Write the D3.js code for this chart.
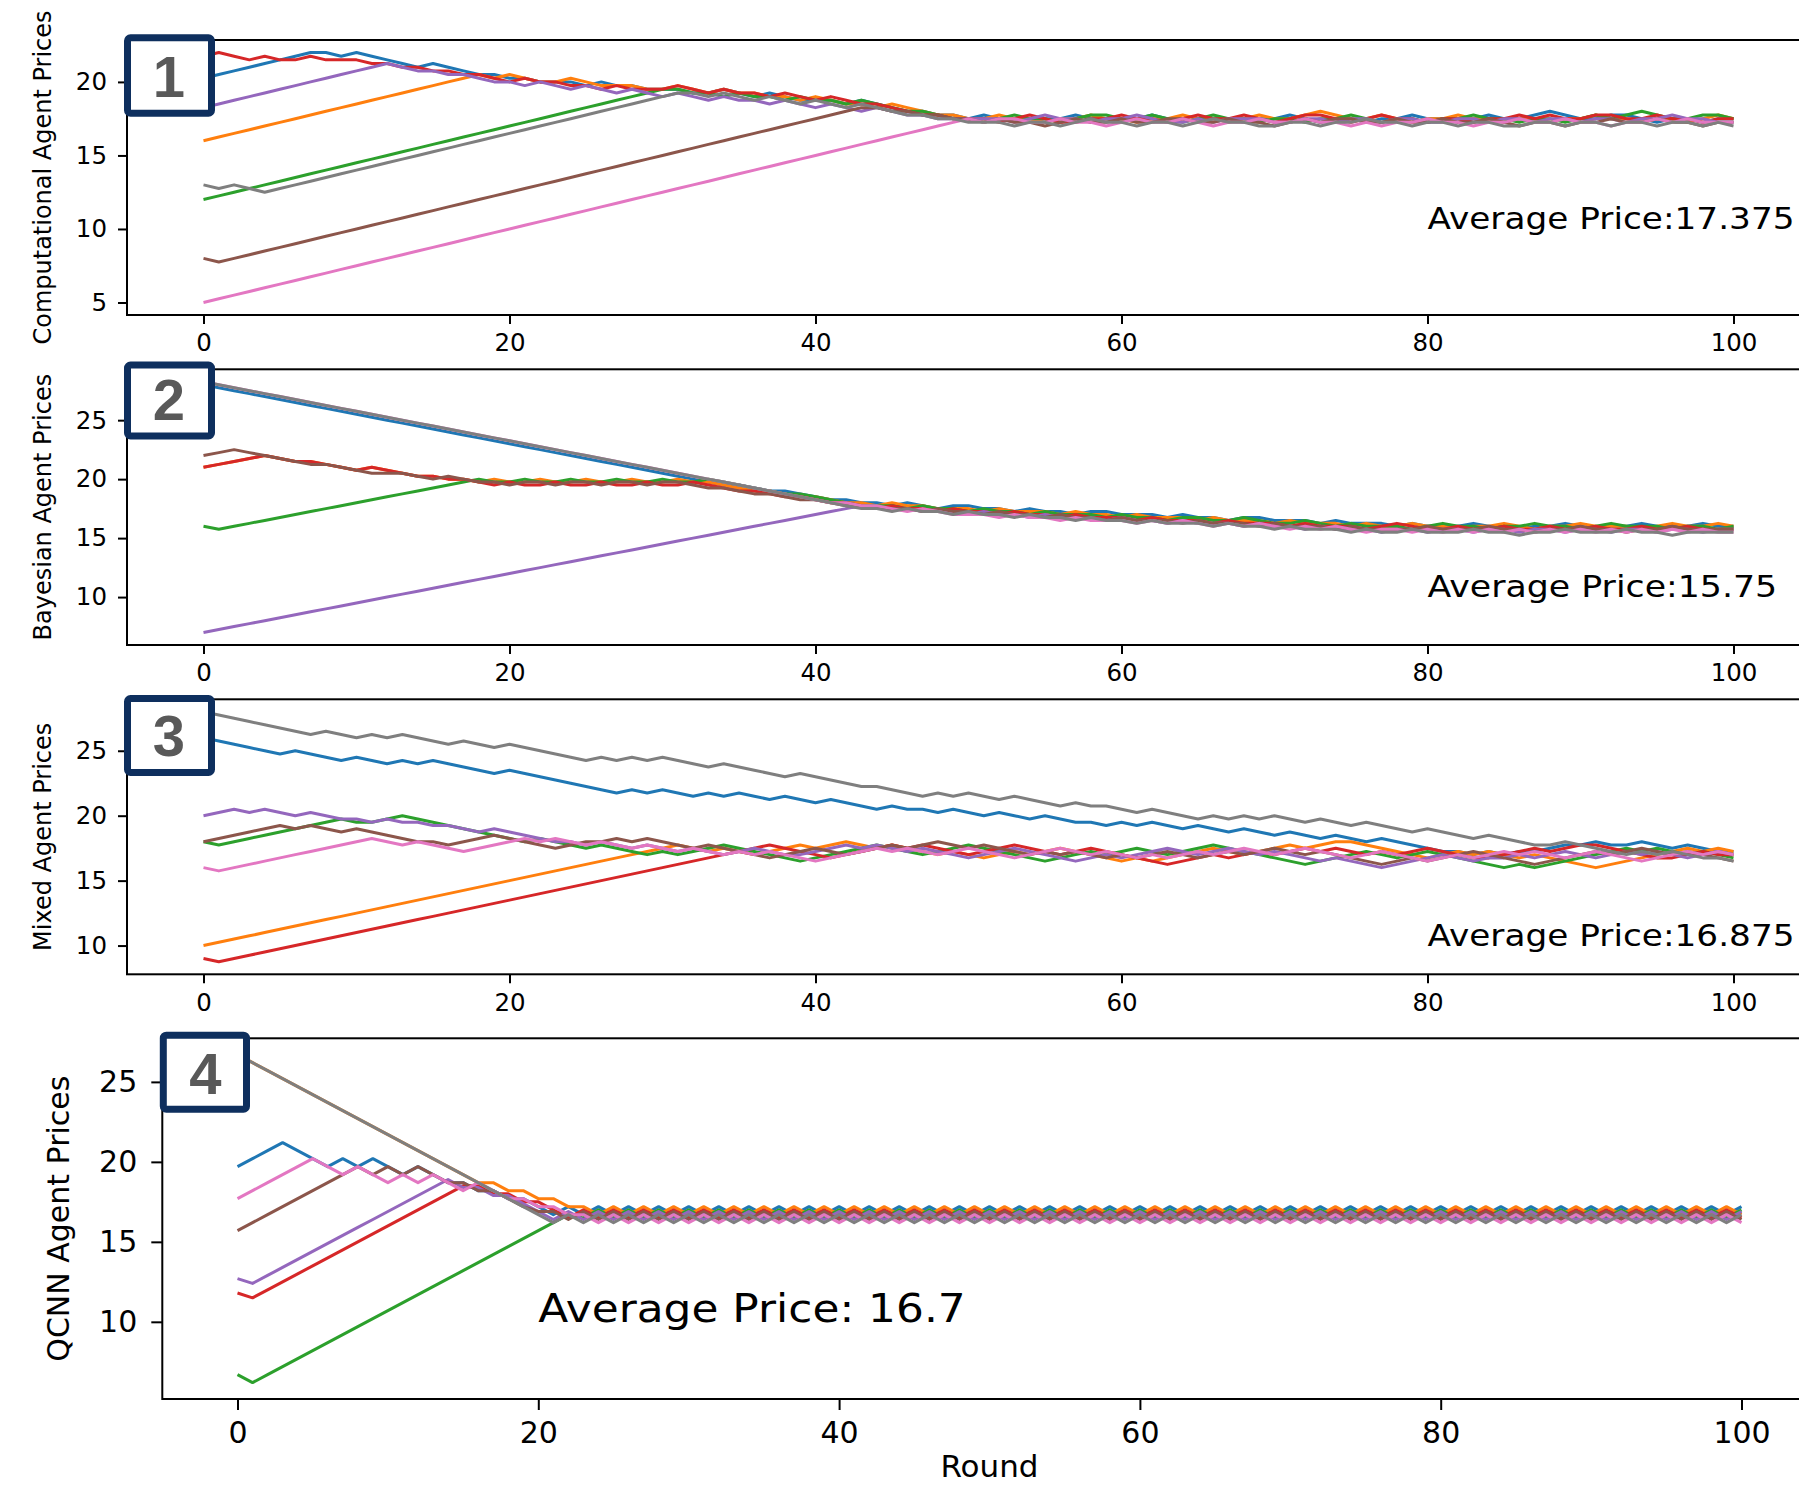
<!DOCTYPE html>
<html>
<head>
<meta charset="utf-8">
<script src="https://cdn.jsdelivr.net/npm/d3@7"></script>
<style>
  html, body { margin: 0; padding: 0; background: #fff; }
  svg { display: block; }
</style>
</head>
<body>
<svg width="1799" height="1485"></svg>
<script>
// x: round index 0..100 (array position), y: agent price
var xTicks = [0, 20, 40, 60, 80, 100];
var compTicks = [5, 10, 15, 20];
var bayesTicks = [10, 15, 20, 25];
var mixedTicks = [10, 15, 20, 25];
var qcnnTicks = [10, 15, 20, 25];
var panelTags = ["1", "2", "3", "4"];

// ---- Computational agents ----
var compBlue = [
20.25, 20.5, 20.75, 21, 21.25, 21.5, 21.75, 22, 22, 21.75,
22, 21.75, 21.5, 21.25, 21, 21.25, 21, 20.75, 20.5, 20.5,
20.25, 20.25, 20, 20, 20, 19.75, 20, 19.75, 19.75, 19.5,
19.5, 19.5, 19.25, 19.25, 19.5, 19.25, 19, 19.25, 19, 18.75,
18.75, 18.75, 18.5, 18.75, 18.5, 18.25, 18, 18, 17.75, 17.75,
17.5, 17.75, 17.5, 17.5, 17.25, 17.5, 17.5, 17.75, 17.5, 17.5,
17.25, 17.5, 17.75, 17.5, 17.5, 17.25, 17.5, 17.5, 17.25, 17.5,
17.5, 17.75, 17.5, 17.25, 17.5, 17.5, 17.25, 17.5, 17.5, 17.75,
17.5, 17.5, 17.25, 17.5, 17.75, 17.5, 17.5, 17.75, 18, 17.75,
17.5, 17.5, 17.75, 17.75, 17.5, 17.25, 17.5, 17.5, 17.25, 17.5,
17.5];
var compOrange = [
16, 16.25, 16.5, 16.75, 17, 17.25, 17.5, 17.75, 18, 18.25,
18.5, 18.75, 19, 19.25, 19.5, 19.75, 20, 20.25, 20.5, 20.25,
20.5, 20.25, 20, 20, 20.25, 20, 19.75, 19.75, 19.75, 19.5,
19.5, 19.75, 19.5, 19.25, 19.5, 19.25, 19.25, 19, 19, 18.75,
19, 18.75, 18.5, 18.5, 18.25, 18.5, 18.25, 18, 17.75, 17.75,
17.5, 17.5, 17.75, 17.5, 17.5, 17.25, 17.5, 17.5, 17.75, 17.5,
17.5, 17.25, 17.5, 17.5, 17.75, 17.5, 17.5, 17.25, 17.5, 17.75,
17.5, 17.5, 17.75, 18, 17.75, 17.5, 17.5, 17.75, 17.5, 17.25,
17.5, 17.5, 17.75, 17.5, 17.5, 17.25, 17.5, 17.5, 17.25, 17.5,
17.5, 17.75, 17.5, 17.5, 17.25, 17.5, 17.5, 17.25, 17.5, 17.75,
17.5];
var compGreen = [
12, 12.25, 12.5, 12.75, 13, 13.25, 13.5, 13.75, 14, 14.25,
14.5, 14.75, 15, 15.25, 15.5, 15.75, 16, 16.25, 16.5, 16.75,
17, 17.25, 17.5, 17.75, 18, 18.25, 18.5, 18.75, 19, 19.25,
19.5, 19.5, 19.25, 19.25, 19, 19.25, 19, 19, 18.75, 19,
18.75, 18.75, 18.5, 18.75, 18.5, 18.25, 18, 18, 17.75, 17.5,
17.5, 17.25, 17.5, 17.75, 17.5, 17.5, 17.25, 17.5, 17.75, 17.75,
17.5, 17.5, 17.75, 17.5, 17.25, 17.5, 17.75, 17.5, 17.5, 17.25,
17.5, 17.5, 17.25, 17.5, 17.5, 17.75, 17.5, 17.25, 17.5, 17.5,
17.25, 17.5, 17.5, 17.75, 17.5, 17.5, 17.25, 17.5, 17.5, 17.25,
17.5, 17.75, 17.5, 17.75, 18, 17.75, 17.5, 17.5, 17.75, 17.75,
17.5];
var compRed = [
21.75, 22, 21.75, 21.5, 21.75, 21.5, 21.5, 21.75, 21.5, 21.5,
21.5, 21.25, 21.25, 21, 21, 20.75, 20.75, 20.5, 20.5, 20.25,
20, 20.25, 20, 20, 19.75, 19.75, 19.5, 19.75, 19.5, 19.5,
19.5, 19.75, 19.5, 19.25, 19.5, 19.25, 19.25, 19, 19.25, 19,
18.75, 19, 18.75, 18.5, 18.5, 18.25, 18, 17.75, 17.75, 17.5,
17.5, 17.5, 17.25, 17.5, 17.75, 17.5, 17.25, 17.25, 17.5, 17.5,
17.75, 17.5, 17.5, 17.25, 17.5, 17.75, 17.5, 17.5, 17.75, 17.5,
17.25, 17.5, 17.75, 17.75, 17.5, 17.25, 17.5, 17.75, 17.5, 17.5,
17.25, 17.5, 17.5, 17.25, 17.5, 17.5, 17.75, 17.5, 17.75, 17.5,
17.5, 17.75, 17.75, 17.5, 17.5, 17.75, 17.5, 17.5, 17.25, 17.5,
17.5];
var compPurple = [
18.25, 18.5, 18.75, 19, 19.25, 19.5, 19.75, 20, 20.25, 20.5,
20.75, 21, 21.25, 21, 20.75, 20.75, 20.5, 20.5, 20.25, 20,
20, 19.75, 20, 19.75, 19.5, 19.75, 19.5, 19.25, 19.5, 19.25,
19, 19.25, 19, 18.75, 19, 18.75, 18.75, 18.5, 18.75, 18.5,
18.25, 18.5, 18.25, 18, 18.25, 18, 17.75, 17.75, 17.5, 17.5,
17.5, 17.5, 17.5, 17.25, 17.5, 17.75, 17.5, 17.5, 17.25, 17.5,
17.5, 17.75, 17.5, 17.25, 17.25, 17.5, 17.25, 17.5, 17.5, 17.5,
17.25, 17.25, 17.5, 17.5, 17.25, 17.5, 17.5, 17.25, 17.5, 17.5,
17.25, 17.25, 17.5, 17.5, 17.25, 17.5, 17.5, 17.25, 17.5, 17.5,
17.25, 17.5, 17.5, 17.25, 17.5, 17.5, 17.75, 17.5, 17.5, 17.25,
17.25];
var compBrown = [
8, 7.75, 8, 8.25, 8.5, 8.75, 9, 9.25, 9.5, 9.75,
10, 10.25, 10.5, 10.75, 11, 11.25, 11.5, 11.75, 12, 12.25,
12.5, 12.75, 13, 13.25, 13.5, 13.75, 14, 14.25, 14.5, 14.75,
15, 15.25, 15.5, 15.75, 16, 16.25, 16.5, 16.75, 17, 17.25,
17.5, 17.75, 18, 18.25, 18.25, 18, 18, 17.75, 17.75, 17.5,
17.5, 17.25, 17.5, 17.25, 17.25, 17, 17.25, 17.5, 17.25, 17.25,
17.5, 17.25, 17.25, 17.5, 17.5, 17.25, 17.25, 17.5, 17.25, 17.25,
17, 17.25, 17.5, 17.25, 17.5, 17.5, 17.25, 17.25, 17.5, 17.25,
17.25, 17.5, 17.25, 17.25, 17.5, 17.25, 17, 17.25, 17.25, 17,
17.25, 17.25, 17.5, 17.25, 17.25, 17.5, 17.25, 17.25, 17, 17.25,
17.25];
var compPink = [
5, 5.25, 5.5, 5.75, 6, 6.25, 6.5, 6.75, 7, 7.25,
7.5, 7.75, 8, 8.25, 8.5, 8.75, 9, 9.25, 9.5, 9.75,
10, 10.25, 10.5, 10.75, 11, 11.25, 11.5, 11.75, 12, 12.25,
12.5, 12.75, 13, 13.25, 13.5, 13.75, 14, 14.25, 14.5, 14.75,
15, 15.25, 15.5, 15.75, 16, 16.25, 16.5, 16.75, 17, 17.25,
17.5, 17.25, 17.5, 17.5, 17.25, 17.25, 17.5, 17.25, 17.25, 17,
17.25, 17.5, 17.25, 17.25, 17.5, 17.25, 17, 17.25, 17.25, 17.5,
17.25, 17.25, 17.5, 17.25, 17.25, 17, 17.25, 17, 17.25, 17.25,
17.5, 17.25, 17.25, 17, 17.25, 17.25, 17.5, 17.25, 17.25, 17.5,
17.25, 17.25, 17, 17.25, 17.25, 17.5, 17.25, 17.5, 17.25, 17.25,
17.25];
var compGray = [
13, 12.75, 13, 12.75, 12.5, 12.75, 13, 13.25, 13.5, 13.75,
14, 14.25, 14.5, 14.75, 15, 15.25, 15.5, 15.75, 16, 16.25,
16.5, 16.75, 17, 17.25, 17.5, 17.75, 18, 18.25, 18.5, 18.75,
19, 19.25, 19.25, 19, 19.25, 19, 18.75, 19, 18.75, 18.5,
18.75, 18.5, 18.25, 18.5, 18.25, 18, 17.75, 17.75, 17.5, 17.5,
17.25, 17.25, 17.25, 17, 17.25, 17.25, 17, 17.25, 17.5, 17.25,
17.25, 17, 17.25, 17.25, 17, 17.25, 17.5, 17.25, 17.25, 17,
17, 17.25, 17.25, 17, 17.25, 17.25, 17.5, 17.25, 17.25, 17,
17.25, 17.25, 17, 17.25, 17.25, 17, 17, 17.25, 17.25, 17,
17.25, 17.25, 17, 17.25, 17.25, 17, 17.25, 17.25, 17, 17.25,
17];

// ---- Bayesian agents ----
var bayesBlue = [
28, 27.75, 27.5, 27.25, 27, 26.75, 26.5, 26.25, 26, 25.75,
25.5, 25.25, 25, 24.75, 24.5, 24.25, 24, 23.75, 23.5, 23.25,
23, 22.75, 22.5, 22.25, 22, 21.75, 21.5, 21.25, 21, 20.75,
20.5, 20.25, 20, 19.75, 19.5, 19.5, 19.25, 19, 19, 18.75,
18.5, 18.25, 18.25, 18, 18, 17.75, 18, 17.75, 17.5, 17.75,
17.75, 17.5, 17.5, 17.25, 17.5, 17.25, 17.25, 17, 17.25, 17.25,
17, 17, 17, 16.75, 17, 16.75, 16.75, 16.5, 16.75, 16.75,
16.5, 16.5, 16.5, 16.25, 16.5, 16.25, 16.25, 16.25, 16, 16.25,
16, 16, 16, 16.25, 16, 16, 15.75, 16, 16, 16.25,
16, 15.75, 16, 16, 16.25, 16, 16, 16, 16.25, 16,
16];
var bayesOrange = [
21, 21.25, 21.5, 21.75, 22, 21.75, 21.5, 21.5, 21.25, 21,
20.75, 21, 20.75, 20.5, 20.25, 20.25, 20, 20, 19.75, 20,
19.75, 19.75, 20, 19.75, 19.75, 20, 19.75, 19.75, 20, 19.75,
19.75, 20, 19.75, 19.75, 19.5, 19.25, 19, 19, 18.75, 18.5,
18.5, 18.25, 18, 18, 17.75, 18, 17.75, 17.75, 17.5, 17.5,
17.5, 17.25, 17.5, 17.25, 17.25, 17.25, 17, 17.25, 17, 17,
16.75, 17, 16.75, 16.75, 16.75, 16.5, 16.75, 16.5, 16.5, 16.5,
16.25, 16.5, 16.25, 16.25, 16.25, 16, 16.25, 16, 16, 16.25,
16, 16, 15.75, 16, 16, 16.25, 16, 15.75, 16, 16,
16.25, 16, 16, 16, 15.75, 16, 16.25, 16, 16, 16.25,
16];
var bayesGreen = [
16, 15.75, 16, 16.25, 16.5, 16.75, 17, 17.25, 17.5, 17.75,
18, 18.25, 18.5, 18.75, 19, 19.25, 19.5, 19.75, 20, 19.75,
19.75, 20, 19.75, 19.75, 20, 19.75, 19.75, 20, 19.75, 19.75,
20, 19.75, 19.75, 20, 19.75, 19.5, 19.25, 19, 18.75, 18.75,
18.5, 18.25, 18, 17.75, 17.75, 17.75, 17.5, 17.75, 17.5, 17.5,
17.25, 17.5, 17.25, 17.25, 17, 17.25, 17, 17, 17, 16.75,
17, 16.75, 16.75, 16.5, 16.75, 16.75, 16.5, 16.5, 16.75, 16.5,
16.25, 16.25, 16.5, 16.25, 16, 16.25, 16, 16, 16, 15.75,
16, 16.25, 16, 16, 15.75, 16, 16, 16.25, 16, 16,
15.75, 16, 16.25, 16, 16, 16, 15.75, 16, 16, 15.75,
16];
var bayesRed = [
21, 21.25, 21.5, 21.75, 22, 21.75, 21.5, 21.5, 21.25, 21,
20.75, 21, 20.75, 20.5, 20.25, 20.25, 20, 20, 19.75, 19.5,
19.75, 19.5, 19.5, 19.75, 19.5, 19.5, 19.75, 19.5, 19.5, 19.75,
19.5, 19.5, 19.75, 19.5, 19.25, 19, 19, 18.75, 18.5, 18.5,
18.25, 18, 18, 17.75, 17.5, 17.75, 17.5, 17.5, 17.25, 17.5,
17.25, 17.25, 17, 17.25, 17, 17, 16.75, 17, 16.75, 16.75,
16.75, 16.5, 16.75, 16.5, 16.5, 16.5, 16.25, 16.5, 16.25, 16.25,
16.25, 16, 16.25, 16, 16, 16, 15.75, 16, 16.25, 16,
15.75, 15.75, 16, 15.75, 15.75, 16, 15.75, 15.75, 16, 15.75,
15.75, 16, 15.75, 15.75, 16, 15.75, 15.75, 16, 15.75, 15.75,
15.75];
var bayesPurple = [
7, 7.25, 7.5, 7.75, 8, 8.25, 8.5, 8.75, 9, 9.25,
9.5, 9.75, 10, 10.25, 10.5, 10.75, 11, 11.25, 11.5, 11.75,
12, 12.25, 12.5, 12.75, 13, 13.25, 13.5, 13.75, 14, 14.25,
14.5, 14.75, 15, 15.25, 15.5, 15.75, 16, 16.25, 16.5, 16.75,
17, 17.25, 17.5, 17.75, 17.5, 17.5, 17.5, 17.25, 17.25, 17.25,
17, 17.25, 17, 17, 16.75, 17, 16.75, 16.75, 16.75, 16.5,
16.75, 16.5, 16.5, 16.25, 16.5, 16.25, 16.25, 16.25, 16, 16.25,
16, 16, 15.75, 16, 15.75, 15.75, 15.75, 15.5, 15.75, 15.75,
15.5, 15.75, 15.75, 15.5, 15.75, 15.75, 15.5, 15.75, 15.75, 15.5,
15.75, 15.75, 15.5, 15.75, 15.75, 15.5, 15.75, 15.75, 15.5, 15.75,
15.75];
var bayesBrown = [
22, 22.25, 22.5, 22.25, 22, 21.75, 21.5, 21.25, 21.25, 21,
20.75, 20.5, 20.5, 20.5, 20.25, 20, 20.25, 20, 19.75, 19.75,
19.5, 19.75, 19.75, 19.5, 19.75, 19.75, 19.5, 19.75, 19.75, 19.5,
19.75, 19.75, 19.5, 19.25, 19.25, 19, 18.75, 18.75, 18.5, 18.25,
18.25, 18, 17.75, 17.75, 17.5, 17.5, 17.5, 17.25, 17.5, 17.25,
17.25, 17, 17.25, 17, 17, 16.75, 17, 16.75, 16.75, 16.5,
16.75, 16.5, 16.5, 16.5, 16.25, 16.5, 16.25, 16.25, 16.25, 16,
16.25, 16, 16, 16, 15.75, 16, 15.75, 15.75, 15.75, 15.75,
16, 15.75, 15.75, 15.75, 16, 15.75, 15.75, 15.5, 15.75, 15.75,
16, 15.75, 15.75, 15.5, 15.75, 15.75, 16, 15.75, 15.75, 15.75,
15.75];
var bayesPink = [
28.25, 28, 27.75, 27.5, 27.25, 27, 26.75, 26.5, 26.25, 26,
25.75, 25.5, 25.25, 25, 24.75, 24.5, 24.25, 24, 23.75, 23.5,
23.25, 23, 22.75, 22.5, 22.25, 22, 21.75, 21.5, 21.25, 21,
20.75, 20.5, 20.25, 20, 19.75, 19.5, 19.25, 19, 18.75, 18.5,
18.25, 18, 18, 17.75, 17.75, 17.5, 17.25, 17.5, 17.25, 17,
17, 17, 16.75, 17, 16.75, 16.75, 16.5, 16.75, 16.5, 16.5,
16.5, 16.25, 16.5, 16.25, 16.5, 16.25, 16, 16.25, 16, 16.25,
16, 15.75, 16, 15.75, 16, 15.75, 15.5, 15.75, 15.75, 15.5,
15.75, 15.5, 15.75, 15.5, 15.75, 15.5, 15.75, 15.5, 15.75, 15.5,
15.75, 15.5, 15.75, 15.5, 15.75, 15.5, 15.75, 15.5, 15.75, 15.5,
15.5];
var bayesGray = [
28.25, 28, 27.75, 27.5, 27.25, 27, 26.75, 26.5, 26.25, 26,
25.75, 25.5, 25.25, 25, 24.75, 24.5, 24.25, 24, 23.75, 23.5,
23.25, 23, 22.75, 22.5, 22.25, 22, 21.75, 21.5, 21.25, 21,
20.75, 20.5, 20.25, 20, 19.75, 19.5, 19.25, 19, 18.75, 18.5,
18.25, 18, 17.75, 17.5, 17.5, 17.25, 17.5, 17.25, 17.25, 17,
17.25, 17, 17, 16.75, 17, 16.75, 16.75, 16.5, 16.75, 16.5,
16.5, 16.25, 16.5, 16.25, 16.25, 16.25, 16, 16.25, 16, 16,
15.75, 16, 15.75, 15.75, 15.75, 15.5, 15.75, 15.5, 15.5, 15.75,
15.5, 15.5, 15.5, 15.75, 15.5, 15.5, 15.25, 15.5, 15.5, 15.75,
15.5, 15.5, 15.5, 15.75, 15.5, 15.5, 15.25, 15.5, 15.5, 15.5,
15.5];

// ---- Mixed agents ----
var mixedBlue = [
26, 25.75, 25.5, 25.25, 25, 24.75, 25, 24.75, 24.5, 24.25,
24.5, 24.25, 24, 24.25, 24, 24.25, 24, 23.75, 23.5, 23.25,
23.5, 23.25, 23, 22.75, 22.5, 22.25, 22, 21.75, 22, 21.75,
22, 21.75, 21.5, 21.75, 21.5, 21.75, 21.5, 21.25, 21.5, 21.25,
21, 21.25, 21, 20.75, 20.5, 20.75, 20.5, 20.5, 20.25, 20.5,
20.25, 20, 20.25, 20, 19.75, 20, 19.75, 19.5, 19.5, 19.25,
19.5, 19.25, 19.5, 19.25, 19, 19.25, 19, 18.75, 19, 18.75,
18.5, 18.75, 18.5, 18.25, 18.5, 18.25, 18, 18.25, 18, 17.75,
17.5, 17.25, 17.25, 17, 17.25, 17, 17.25, 17.25, 17.5, 17.75,
17.75, 18, 17.75, 17.75, 18, 17.75, 17.5, 17.75, 17.5, 17.25,
17.25];
var mixedOrange = [
10, 10.25, 10.5, 10.75, 11, 11.25, 11.5, 11.75, 12, 12.25,
12.5, 12.75, 13, 13.25, 13.5, 13.75, 14, 14.25, 14.5, 14.75,
15, 15.25, 15.5, 15.75, 16, 16.25, 16.5, 16.75, 17, 17.25,
17.5, 17.75, 17.5, 17.25, 17.5, 17.25, 17, 17.25, 17.5, 17.75,
17.5, 17.75, 18, 17.75, 17.5, 17.75, 17.5, 17.25, 17, 17.25,
17, 16.75, 17, 17.25, 17, 17.25, 17.5, 17.25, 17, 16.75,
16.5, 16.75, 16.5, 16.75, 17, 17.25, 17.5, 17.25, 17, 17.25,
17.5, 17.75, 17.5, 17.75, 18, 18, 17.75, 17.5, 17.25, 17,
16.75, 17, 17.25, 17, 17.25, 17, 16.75, 17, 16.75, 16.5,
16.25, 16, 16.25, 16.5, 16.75, 17, 17.25, 17.5, 17.25, 17.5,
17.25];
var mixedGreen = [
18, 17.75, 18, 18.25, 18.5, 18.75, 19, 19.25, 19.5, 19.75,
19.5, 19.5, 19.75, 20, 19.75, 19.5, 19.25, 19, 18.75, 18.5,
18.25, 18, 18.25, 18, 17.75, 17.5, 17.75, 17.5, 17.25, 17,
17.25, 17, 17.25, 17.5, 17.75, 17.5, 17.25, 17, 16.75, 16.5,
16.75, 17, 17.25, 17.5, 17.75, 17.5, 17.25, 17, 17.25, 17.5,
17.75, 17.5, 17.25, 17, 16.75, 16.5, 16.75, 17, 17.25, 17,
17.25, 17.5, 17.25, 17, 17.25, 17.5, 17.75, 17.5, 17.25, 17,
16.75, 16.5, 16.25, 16.5, 16.75, 17, 17.25, 17, 16.75, 17,
17.25, 17, 16.75, 16.5, 16.25, 16, 16.25, 16, 16.25, 16.5,
16.75, 17, 17.25, 17.5, 17.25, 17.5, 17.25, 17, 17.25, 17,
16.75];
var mixedRed = [
9, 8.75, 9, 9.25, 9.5, 9.75, 10, 10.25, 10.5, 10.75,
11, 11.25, 11.5, 11.75, 12, 12.25, 12.5, 12.75, 13, 13.25,
13.5, 13.75, 14, 14.25, 14.5, 14.75, 15, 15.25, 15.5, 15.75,
16, 16.25, 16.5, 16.75, 17, 17.25, 17.5, 17.75, 17.5, 17.25,
17, 16.75, 17, 17.25, 17.5, 17.75, 17.5, 17.75, 17.5, 17.25,
17, 17.25, 17.5, 17.75, 17.5, 17.25, 17, 17.25, 17.5, 17.25,
17, 16.75, 16.5, 16.25, 16.5, 16.75, 17, 16.75, 17, 17.25,
17, 17.25, 17.5, 17.25, 17.5, 17.25, 17, 17.25, 17, 17.25,
17.5, 17.25, 17, 16.75, 16.75, 17, 17.25, 17.5, 17.25, 17.5,
17.75, 17.75, 17.5, 17.25, 17, 16.75, 16.75, 17, 17.25, 17,
17];
var mixedPurple = [
20, 20.25, 20.5, 20.25, 20.5, 20.25, 20, 20.25, 20, 19.75,
19.75, 19.5, 19.75, 19.5, 19.5, 19.25, 19.25, 19, 18.75, 19,
18.75, 18.5, 18.25, 18, 18, 17.75, 18, 17.75, 17.5, 17.75,
17.5, 17.25, 17.5, 17.25, 17, 17.25, 17.5, 17.25, 17, 17,
17.25, 17.5, 17.75, 17.5, 17.75, 17.5, 17.25, 17.5, 17.25, 17,
16.75, 17, 17.25, 17.5, 17.25, 17, 16.75, 16.5, 16.75, 17,
16.75, 17, 17.25, 17.5, 17.25, 17, 17.25, 17.5, 17.25, 17,
17.25, 17, 16.75, 16.5, 16.75, 16.5, 16.25, 16, 16.25, 16.5,
16.75, 17, 16.75, 16.5, 16.75, 16.75, 17, 16.75, 17, 17.25,
17, 16.75, 17, 17.25, 17, 17.25, 17, 16.75, 17, 17.25,
17];
var mixedBrown = [
18, 18.25, 18.5, 18.75, 19, 19.25, 19, 19.25, 19, 18.75,
19, 18.75, 18.5, 18.25, 18, 18, 17.75, 18, 18.25, 18.5,
18.25, 18, 17.75, 17.5, 17.75, 18, 18, 18.25, 18, 18.25,
18, 17.75, 17.5, 17.75, 17.5, 17.25, 17, 16.75, 17, 17.25,
17.5, 17.25, 17, 17.25, 17.5, 17.75, 17.5, 17.75, 18, 17.75,
17.5, 17.75, 17.5, 17.25, 17, 17.25, 17, 17.25, 17, 16.75,
17, 16.75, 17, 17.25, 17, 16.75, 17, 17.25, 17, 17.25,
17.5, 17.25, 17, 17.25, 17, 16.75, 16.5, 16.25, 16.5, 16.75,
16.5, 16.75, 17, 17.25, 17, 16.75, 16.5, 16.25, 16.5, 16.75,
17, 17.25, 17, 17.25, 17.5, 17.25, 17, 17.25, 17, 16.75,
16.5];
var mixedPink = [
16, 15.75, 16, 16.25, 16.5, 16.75, 17, 17.25, 17.5, 17.75,
18, 18.25, 18, 17.75, 18, 17.75, 17.5, 17.25, 17.5, 17.75,
18, 18.25, 18, 18.25, 18, 17.75, 18, 17.75, 17.5, 17.75,
17.5, 17.25, 17.5, 17.25, 17, 17.25, 17, 17.25, 17, 16.75,
16.5, 16.75, 17, 17.25, 17.5, 17.25, 17.5, 17.25, 17, 17.25,
17.5, 17.25, 17, 16.75, 17, 17.25, 17.5, 17.25, 17, 17.25,
17, 16.75, 17, 16.75, 17, 17.25, 17, 17.25, 17.5, 17.25,
17, 17.25, 17.5, 17.25, 17, 16.75, 17, 17.25, 17, 16.75,
16.5, 16.75, 17, 16.75, 17, 17.25, 17, 17.25, 17, 16.75,
17, 17.25, 17, 16.75, 16.5, 16.75, 17, 17.25, 17, 17.25,
17];
var mixedGray = [
28, 27.75, 27.5, 27.25, 27, 26.75, 26.5, 26.25, 26.5, 26.25,
26, 26.25, 26, 26.25, 26, 25.75, 25.5, 25.75, 25.5, 25.25,
25.5, 25.25, 25, 24.75, 24.5, 24.25, 24.5, 24.25, 24.5, 24.25,
24.5, 24.25, 24, 23.75, 24, 23.75, 23.5, 23.25, 23, 23.25,
23, 22.75, 22.5, 22.25, 22.25, 22, 21.75, 21.5, 21.75, 21.5,
21.75, 21.5, 21.25, 21.5, 21.25, 21, 20.75, 21, 20.75, 20.75,
20.5, 20.25, 20.5, 20.25, 20, 19.75, 20, 19.75, 20, 19.75,
20, 19.75, 19.5, 19.75, 19.5, 19.25, 19.5, 19.25, 19, 18.75,
19, 18.75, 18.5, 18.25, 18.5, 18.25, 18, 17.75, 17.75, 18,
17.75, 17.5, 17.25, 17, 17.25, 17, 17.25, 17, 16.75, 16.75,
16.5];

// ---- QCNN agents ----
var qcnnBlue = [
19.7, 20.2, 20.7, 21.2, 20.7, 20.2, 19.7, 20.2, 19.7, 20.2,
19.7, 19.2, 19.7, 19.2, 18.7, 18.7, 18.2, 18.2, 17.7, 17.7,
17.2, 16.7, 17.2, 16.7, 17.2, 16.7, 17.2, 16.7, 17.2, 16.7,
17.2, 16.7, 17.2, 16.7, 17.2, 16.7, 17.2, 16.7, 17.2, 16.7,
17.2, 16.7, 17.2, 16.7, 17.2, 16.7, 17.2, 16.7, 17.2, 16.7,
17.2, 16.7, 17.2, 16.7, 17.2, 16.7, 17.2, 16.7, 17.2, 16.7,
17.2, 16.7, 17.2, 16.7, 17.2, 16.7, 17.2, 16.7, 17.2, 16.7,
17.2, 16.7, 17.2, 16.7, 17.2, 16.7, 17.2, 16.7, 17.2, 16.7,
17.2, 16.7, 17.2, 16.7, 17.2, 16.7, 17.2, 16.7, 17.2, 16.7,
17.2, 16.7, 17.2, 16.7, 17.2, 16.7, 17.2, 16.7, 17.2, 16.7,
17.2];
var qcnnOrange = [
26.7, 26.2, 25.7, 25.2, 24.7, 24.2, 23.7, 23.2, 22.7, 22.2,
21.7, 21.2, 20.7, 20.2, 19.7, 19.2, 18.7, 18.7, 18.2, 18.2,
17.7, 17.7, 17.2, 17.2, 16.7, 17.2, 16.7, 17.2, 16.7, 17.2,
16.7, 17.2, 16.7, 17.2, 16.7, 17.2, 16.7, 17.2, 16.7, 17.2,
16.7, 17.2, 16.7, 17.2, 16.7, 17.2, 16.7, 17.2, 16.7, 17.2,
16.7, 17.2, 16.7, 17.2, 16.7, 17.2, 16.7, 17.2, 16.7, 17.2,
16.7, 17.2, 16.7, 17.2, 16.7, 17.2, 16.7, 17.2, 16.7, 17.2,
16.7, 17.2, 16.7, 17.2, 16.7, 17.2, 16.7, 17.2, 16.7, 17.2,
16.7, 17.2, 16.7, 17.2, 16.7, 17.2, 16.7, 17.2, 16.7, 17.2,
16.7, 17.2, 16.7, 17.2, 16.7, 17.2, 16.7, 17.2, 16.7, 17.2,
16.7];
var qcnnGreen = [
6.7, 6.2, 6.7, 7.2, 7.7, 8.2, 8.7, 9.2, 9.7, 10.2,
10.7, 11.2, 11.7, 12.2, 12.7, 13.2, 13.7, 14.2, 14.7, 15.2,
15.7, 16.2, 16.7, 16.5, 17, 16.5, 17, 16.5, 17, 16.5,
17, 16.5, 17, 16.5, 17, 16.5, 17, 16.5, 17, 16.5,
17, 16.5, 17, 16.5, 17, 16.5, 17, 16.5, 17, 16.5,
17, 16.5, 17, 16.5, 17, 16.5, 17, 16.5, 17, 16.5,
17, 16.5, 17, 16.5, 17, 16.5, 17, 16.5, 17, 16.5,
17, 16.5, 17, 16.5, 17, 16.5, 17, 16.5, 17, 16.5,
17, 16.5, 17, 16.5, 17, 16.5, 17, 16.5, 17, 16.5,
17, 16.5, 17, 16.5, 17, 16.5, 17, 16.5, 17, 16.5,
17];
var qcnnRed = [
11.8, 11.5, 12, 12.5, 13, 13.5, 14, 14.5, 15, 15.5,
16, 16.5, 17, 17.5, 18, 18.5, 18.5, 18, 18, 17.5,
17.5, 17, 16.5, 17, 16.5, 17, 16.5, 17, 16.5, 17,
16.5, 17, 16.5, 17, 16.5, 17, 16.5, 17, 16.5, 17,
16.5, 17, 16.5, 17, 16.5, 17, 16.5, 17, 16.5, 17,
16.5, 17, 16.5, 17, 16.5, 17, 16.5, 17, 16.5, 17,
16.5, 17, 16.5, 17, 16.5, 17, 16.5, 17, 16.5, 17,
16.5, 17, 16.5, 17, 16.5, 17, 16.5, 17, 16.5, 17,
16.5, 17, 16.5, 17, 16.5, 17, 16.5, 17, 16.5, 17,
16.5, 17, 16.5, 17, 16.5, 17, 16.5, 17, 16.5, 17,
16.5];
var qcnnPurple = [
12.7, 12.4, 12.9, 13.4, 13.9, 14.4, 14.9, 15.4, 15.9, 16.4,
16.9, 17.4, 17.9, 18.4, 18.9, 18.4, 18.4, 17.9, 17.9, 17.4,
16.9, 16.4, 16.9, 16.4, 16.9, 16.4, 16.9, 16.4, 16.9, 16.4,
16.9, 16.4, 16.9, 16.4, 16.9, 16.4, 16.9, 16.4, 16.9, 16.4,
16.9, 16.4, 16.9, 16.4, 16.9, 16.4, 16.9, 16.4, 16.9, 16.4,
16.9, 16.4, 16.9, 16.4, 16.9, 16.4, 16.9, 16.4, 16.9, 16.4,
16.9, 16.4, 16.9, 16.4, 16.9, 16.4, 16.9, 16.4, 16.9, 16.4,
16.9, 16.4, 16.9, 16.4, 16.9, 16.4, 16.9, 16.4, 16.9, 16.4,
16.9, 16.4, 16.9, 16.4, 16.9, 16.4, 16.9, 16.4, 16.9, 16.4,
16.9, 16.4, 16.9, 16.4, 16.9, 16.4, 16.9, 16.4, 16.9, 16.4,
16.9];
var qcnnBrown = [
15.7, 16.2, 16.7, 17.2, 17.7, 18.2, 18.7, 19.2, 19.7, 19.2,
19.7, 19.2, 19.7, 19.2, 18.7, 18.7, 18.2, 18.2, 17.7, 17.2,
16.9, 16.9, 16.4, 16.9, 16.4, 16.9, 16.4, 16.9, 16.4, 16.9,
16.4, 16.9, 16.4, 16.9, 16.4, 16.9, 16.4, 16.9, 16.4, 16.9,
16.4, 16.9, 16.4, 16.9, 16.4, 16.9, 16.4, 16.9, 16.4, 16.9,
16.4, 16.9, 16.4, 16.9, 16.4, 16.9, 16.4, 16.9, 16.4, 16.9,
16.4, 16.9, 16.4, 16.9, 16.4, 16.9, 16.4, 16.9, 16.4, 16.9,
16.4, 16.9, 16.4, 16.9, 16.4, 16.9, 16.4, 16.9, 16.4, 16.9,
16.4, 16.9, 16.4, 16.9, 16.4, 16.9, 16.4, 16.9, 16.4, 16.9,
16.4, 16.9, 16.4, 16.9, 16.4, 16.9, 16.4, 16.9, 16.4, 16.9,
16.4];
var qcnnPink = [
17.7, 18.2, 18.7, 19.2, 19.7, 20.2, 19.7, 19.2, 19.7, 19.2,
18.7, 19.2, 18.7, 19.2, 18.7, 18.2, 18.7, 18.2, 17.7, 17.7,
17.2, 17.2, 16.7, 16.7, 16.2, 16.7, 16.2, 16.7, 16.2, 16.7,
16.2, 16.7, 16.2, 16.7, 16.2, 16.7, 16.2, 16.7, 16.2, 16.7,
16.2, 16.7, 16.2, 16.7, 16.2, 16.7, 16.2, 16.7, 16.2, 16.7,
16.2, 16.7, 16.2, 16.7, 16.2, 16.7, 16.2, 16.7, 16.2, 16.7,
16.2, 16.7, 16.2, 16.7, 16.2, 16.7, 16.2, 16.7, 16.2, 16.7,
16.2, 16.7, 16.2, 16.7, 16.2, 16.7, 16.2, 16.7, 16.2, 16.7,
16.2, 16.7, 16.2, 16.7, 16.2, 16.7, 16.2, 16.7, 16.2, 16.7,
16.2, 16.7, 16.2, 16.7, 16.2, 16.7, 16.2, 16.7, 16.2, 16.7,
16.2];
var qcnnGray = [
26.7, 26.2, 25.7, 25.2, 24.7, 24.2, 23.7, 23.2, 22.7, 22.2,
21.7, 21.2, 20.7, 20.2, 19.7, 19.2, 18.7, 18.2, 17.7, 17.2,
16.7, 16.2, 16.7, 16.2, 16.7, 16.2, 16.7, 16.2, 16.7, 16.2,
16.7, 16.2, 16.7, 16.2, 16.7, 16.2, 16.7, 16.2, 16.7, 16.2,
16.7, 16.2, 16.7, 16.2, 16.7, 16.2, 16.7, 16.2, 16.7, 16.2,
16.7, 16.2, 16.7, 16.2, 16.7, 16.2, 16.7, 16.2, 16.7, 16.2,
16.7, 16.2, 16.7, 16.2, 16.7, 16.2, 16.7, 16.2, 16.7, 16.2,
16.7, 16.2, 16.7, 16.2, 16.7, 16.2, 16.7, 16.2, 16.7, 16.2,
16.7, 16.2, 16.7, 16.2, 16.7, 16.2, 16.7, 16.2, 16.7, 16.2,
16.7, 16.2, 16.7, 16.2, 16.7, 16.2, 16.7, 16.2, 16.7, 16.2,
16.7];

var svg = d3.select("svg");
var agentColor = d3.scaleOrdinal(d3.schemeCategory10);

// panel layout (px) and text styling
var panels = [
  { series: [compBlue, compOrange, compGreen, compRed, compPurple, compBrown, compPink, compGray],
    ylabel: "Computational Agent Prices", yTicks: compTicks, note: "Average Price:17.375", noteAt: [80, 10],
    left: 127, right: 1810, top: 40, bottom: 315,
    tickFont: 24.5, labelFont: 24, labelX: 50.5, noteFont: 30.5, noteStretch: 1.125,
    tick: 9, padX: 10, padY: 11,
    box: [127.5, 37.8, 84, 75.4], tagX: 169, tagY: 96.6 },
  { series: [bayesBlue, bayesOrange, bayesGreen, bayesRed, bayesPurple, bayesBrown, bayesPink, bayesGray],
    ylabel: "Bayesian Agent Prices", yTicks: bayesTicks, note: "Average Price:15.75", noteAt: [80, 10],
    left: 127, right: 1810, top: 369.3, bottom: 645,
    tickFont: 24.5, labelFont: 24, labelX: 50.5, noteFont: 30.5, noteStretch: 1.14,
    tick: 9, padX: 10, padY: 11,
    box: [127.5, 365, 84, 71], tagX: 169, tagY: 419.8 },
  { series: [mixedBlue, mixedOrange, mixedGreen, mixedRed, mixedPurple, mixedBrown, mixedPink, mixedGray],
    ylabel: "Mixed Agent Prices", yTicks: mixedTicks, note: "Average Price:16.875", noteAt: [80, 10],
    left: 127, right: 1810, top: 699.3, bottom: 974.3,
    tickFont: 24.5, labelFont: 24, labelX: 50.5, noteFont: 30.5, noteStretch: 1.125,
    tick: 9, padX: 10, padY: 11,
    box: [127.5, 698.5, 84, 74], tagX: 169, tagY: 756.3 },
  { series: [qcnnBlue, qcnnOrange, qcnnGreen, qcnnRed, qcnnPurple, qcnnBrown, qcnnPink, qcnnGray],
    ylabel: "QCNN Agent Prices", yTicks: qcnnTicks, note: "Average Price: 16.7", noteAt: [20, 10],
    left: 162.3, right: 1816.7, top: 1038.3, bottom: 1399,
    tickFont: 30, labelFont: 30, labelX: 69, noteFont: 39, noteStretch: 1.125,
    tick: 11, padX: 12, padY: 14,
    box: [163.3, 1035.2, 83.2, 74], tagX: 205.4, tagY: 1093.6,
    xlabel: "Round", xlabelFont: 31, xlabelY: 1477 }
];

panels.forEach(function(p, k) {
  var x = d3.scaleLinear().domain([-5, 105]).range([p.left, p.right]);
  var ext = d3.extent(d3.merge(p.series));
  var pad = (ext[1] - ext[0]) * 0.05;
  var y = d3.scaleLinear().domain([ext[0] - pad, ext[1] + pad]).range([p.bottom, p.top]);

  var g = svg.append("g").attr("class", "panel");

  var line = d3.line()
      .x(function(d, i) { return x(i); })
      .y(function(d) { return y(d); });

  g.selectAll(".agent")
      .data(p.series)
      .enter().append("path")
      .attr("class", "agent")
      .attr("d", line)
      .attr("fill", "none")
      .attr("stroke", function(d, i) { return agentColor(i); })
      .attr("stroke-width", 3)
      .attr("stroke-linejoin", "round");

  g.append("rect")
      .attr("x", p.left).attr("y", p.top)
      .attr("width", p.right - p.left).attr("height", p.bottom - p.top)
      .attr("fill", "none").attr("stroke", "#000").attr("stroke-width", 2);

  var xAxis = g.append("g")
      .attr("transform", "translate(0," + p.bottom + ")")
      .call(d3.axisBottom(x).tickValues(xTicks).tickFormat(d3.format("d"))
        .tickSize(p.tick).tickPadding(p.padX));
  var yAxis = g.append("g")
      .attr("transform", "translate(" + p.left + ",0)")
      .call(d3.axisLeft(y).tickValues(p.yTicks).tickFormat(d3.format("d"))
        .tickSize(p.tick).tickPadding(p.padY));
  [xAxis, yAxis].forEach(function(a) {
    a.select(".domain").remove();
    a.attr("font-family", "DejaVu Sans").attr("font-size", p.tickFont);
    a.selectAll(".tick line").attr("stroke", "#000").attr("stroke-width", 2);
    a.selectAll(".tick text").attr("fill", "#000");
  });

  g.append("text")
      .attr("transform", "translate(" + p.labelX + "," + (p.top + p.bottom) / 2 + ") rotate(-90)")
      .attr("text-anchor", "middle")
      .attr("font-family", "DejaVu Sans")
      .attr("font-size", p.labelFont)
      .attr("fill", "#000")
      .text(p.ylabel);

  g.append("g")
      .attr("transform", "translate(" + x(p.noteAt[0]) + "," + y(p.noteAt[1]) + ") scale(" + p.noteStretch + ",1)")
    .append("text")
      .attr("font-family", "DejaVu Sans")
      .attr("font-size", p.noteFont)
      .attr("fill", "#000")
      .text(p.note);

  if (p.xlabel) {
    g.append("text")
        .attr("x", (p.left + p.right) / 2)
        .attr("y", p.xlabelY)
        .attr("text-anchor", "middle")
        .attr("font-family", "DejaVu Sans")
        .attr("font-size", p.xlabelFont)
        .attr("fill", "#000")
        .text(p.xlabel);
  }

  // numbered tag box overlaid on the top-left corner
  g.append("rect")
      .attr("x", p.box[0]).attr("y", p.box[1])
      .attr("width", p.box[2]).attr("height", p.box[3])
      .attr("rx", 3)
      .attr("fill", "#fff").attr("stroke", "#0e2f5e").attr("stroke-width", 7);
  g.append("text")
      .attr("x", p.tagX).attr("y", p.tagY)
      .attr("text-anchor", "middle")
      .attr("font-family", "Liberation Sans, Arial, sans-serif")
      .attr("font-weight", "bold")
      .attr("font-size", 58)
      .attr("fill", "#595959")
      .text(panelTags[k]);
});
</script>
</body>
</html>
